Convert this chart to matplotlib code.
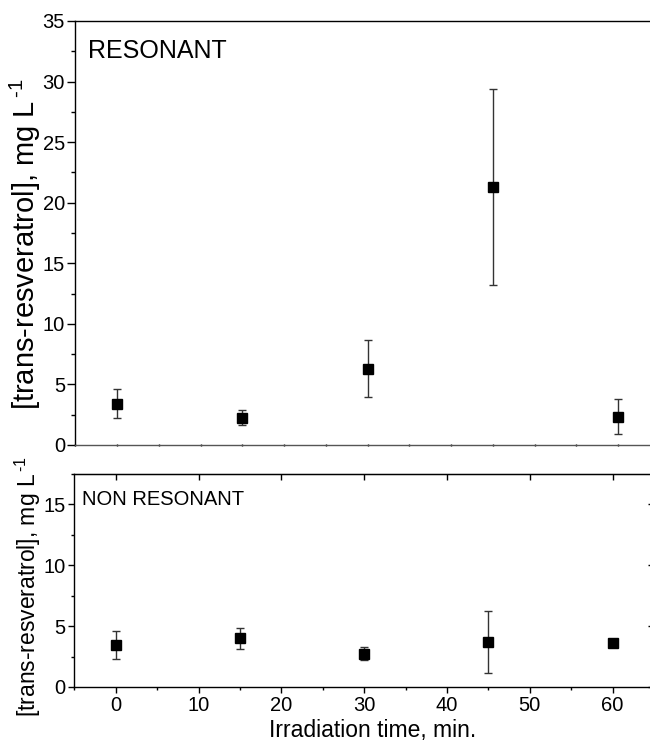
import matplotlib
matplotlib.use("Agg")
import matplotlib.pyplot as plt
from matplotlib.ticker import MultipleLocator

plt.rcParams['font.family'] = ['Liberation Sans', 'DejaVu Sans']
plt.rcParams['mathtext.fontset'] = 'custom'
plt.rcParams['mathtext.rm'] = 'Liberation Sans'
plt.rcParams['mathtext.default'] = 'regular'

# ---- data ----
time_min = [0, 15, 30, 45, 60]
resonant_mean = [3.4, 2.26, 6.3, 21.3, 2.35]
resonant_err = [1.2, 0.6, 2.35, 8.1, 1.46]
nonres_mean = [3.44, 3.99, 2.73, 3.72, 3.58]
nonres_err = [1.18, 0.89, 0.55, 2.54, 0.2]

panel_labels = ["RESONANT", "NON RESONANT"]
y_label = "[trans-resveratrol], mg L$^{\\,\\text{-}1}$"
x_label = "Irradiation time, min."

W, H = 650, 742
fig = plt.figure(figsize=(W / 100, H / 100), dpi=100)

def px(x0, y0, x1, y1):
    return [x0 / W, 1 - y1 / H, (x1 - x0) / W, (y1 - y0) / H]

ax1 = fig.add_axes(px(75.3, 21, 660, 445))
ax2 = fig.add_axes(px(74.3, 474, 654, 687))

err_kw = dict(fmt='s', color='black', ms=7.4, ecolor='#333333', elinewidth=1.0,
              capsize=3.0, capthick=1.0)

TICK_FS = 14.5

# top panel
ax1.errorbar(time_min, resonant_mean, yerr=resonant_err, **err_kw)
ax1.set_xlim(-5, 65)
ax1.set_ylim(0, 35)
ax1.yaxis.set_major_locator(MultipleLocator(5))
ax1.yaxis.set_minor_locator(MultipleLocator(2.5))
ax1.xaxis.set_major_locator(MultipleLocator(5))
ax1.tick_params(axis='y', which='major', direction='out', length=6, width=1,
                labelsize=TICK_FS, pad=1.5, right=False)
ax1.tick_params(axis='y', which='minor', direction='out', length=3.2, width=1, right=False)
ax1.tick_params(axis='x', which='major', direction='inout', length=2, width=1,
                labelbottom=False)
ax1.spines['bottom'].set_color('#555555')
for s in ax1.spines.values():
    s.set_linewidth(1.0)

# bottom panel
ax2.errorbar(time_min, nonres_mean, yerr=nonres_err, **err_kw)
ax2.set_xlim(-5, 65)
ax2.set_ylim(0, 17.5)
ax2.yaxis.set_major_locator(MultipleLocator(5))
ax2.yaxis.set_minor_locator(MultipleLocator(2.5))
ax2.xaxis.set_major_locator(MultipleLocator(10))
ax2.xaxis.set_minor_locator(MultipleLocator(5))
ax2.tick_params(axis='y', which='major', direction='out', length=4.5, width=1,
                labelsize=TICK_FS, pad=2)
ax2.tick_params(axis='y', which='minor', direction='out', length=2.4, width=1)
ax2.tick_params(axis='x', which='major', direction='out', length=4.5, width=1,
                labelsize=TICK_FS, pad=2)
ax2.tick_params(axis='x', which='minor', direction='out', length=2.3, width=1)
for s in ax2.spines.values():
    s.set_linewidth(1.0)

# mirrored inward ticks on top and right of bottom panel
ax2t = ax2.secondary_xaxis('top')
ax2t.xaxis.set_major_locator(MultipleLocator(10))
ax2t.tick_params(direction='in', length=4.5, width=1, labeltop=False)
ax2r = ax2.secondary_yaxis('right')
ax2r.yaxis.set_major_locator(MultipleLocator(5))
ax2r.tick_params(direction='in', length=4.5, width=1, labelright=False)

# panel labels
fig.text(88 / W, 1 - 58.3 / H, panel_labels[0], fontsize=18, va='baseline', ha='left')
fig.text(82 / W, 1 - 505 / H, panel_labels[1], fontsize=14.5, va='baseline', ha='left')

# axis labels
fig.text(25.5 / W, 1 - 244 / H, y_label, rotation=90, fontsize=21,
         ha='center', va='center')
fig.text(27.5 / W, 1 - 586 / H, y_label, rotation=90, fontsize=16.5,
         ha='center', va='center')
fig.text(373 / W, 1 - 737 / H, x_label, fontsize=16.5, ha='center', va='baseline')

fig.savefig("out.png", dpi=100)
